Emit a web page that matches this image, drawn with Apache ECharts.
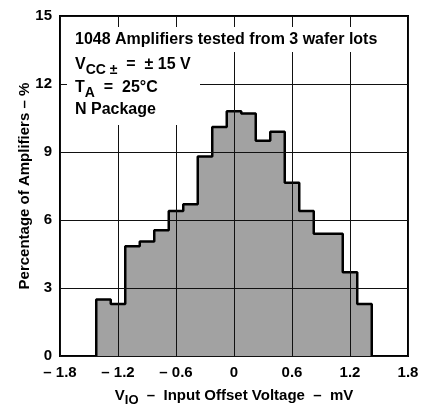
<!DOCTYPE html>
<html>
<head>
<meta charset="utf-8">
<script src="https://cdn.jsdelivr.net/npm/echarts@6/dist/echarts.min.js"></script>
<style>
html,body{margin:0;padding:0;background:#fff;}
#chart{width:429px;height:412px;}
</style>
</head>
<body>
<div id="chart"></div>
<script>
// Bin edges (mV) of the histogram
const binEdges = [-1.425, -1.275, -1.125, -0.975, -0.825, -0.675, -0.525, -0.375, -0.225, -0.075,
                  0.075, 0.225, 0.375, 0.525, 0.675, 0.825, 0.975, 1.125, 1.275, 1.425];
// Percentage of amplifiers per bin
const percentages = [2.5, 2.3, 4.85, 5.05, 5.55, 6.4, 6.7, 8.8, 10.1, 10.8,
                     10.7, 9.5, 9.9, 7.65, 6.4, 5.4, 5.4, 3.7, 2.3];
const xTicks = [-1.8, -1.2, -0.6, 0, 0.6, 1.2, 1.8];
const yTicks = [0, 3, 6, 9, 12, 15];

const FONT = '"Liberation Sans", Arial, Helvetica, sans-serif';

// Step outline points built from the bin edges and heights
const stepData = [[binEdges[0], 0]];
for (let i = 0; i < percentages.length; i++) {
  stepData.push([binEdges[i + 1], percentages[i]]);
}
stepData.push([binEdges[binEdges.length - 1], 0]);

function fmtX(v) {
  if (Math.abs(v) < 1e-9) return '0';
  const s = Math.abs(v).toFixed(1);
  return v < 0 ? '\u2013 ' + s : s;
}

const chart = echarts.init(document.getElementById('chart'), null, {renderer: 'canvas'});
chart.setOption({
  animation: false,
  backgroundColor: '#fff',
  grid: {
    left: 60, right: 21, top: 16, bottom: 49,
    show: true, borderColor: '#000', borderWidth: 2, backgroundColor: 'transparent'
  },
  xAxis: {
    type: 'value',
    min: xTicks[0], max: xTicks[xTicks.length - 1], interval: 0.6,
    z: 5,
    axisLine: {show: false},
    axisTick: {show: false},
    splitLine: {show: true, lineStyle: {color: '#111', width: 1}},
    axisLabel: {
      formatter: fmtX, color: '#000', fontFamily: FONT, fontWeight: 'bold', fontSize: 15, margin: 9
    },
    name: '{v|V}{sub|IO}{t|  \u2013  Input Offset Voltage  \u2013  mV}',
    nameLocation: 'middle',
    nameGap: 23,
    nameTextStyle: {
      rich: {
        v: {fontFamily: FONT, fontWeight: 'bold', fontSize: 15, color: '#000', lineHeight: 17},
        sub: {fontFamily: FONT, fontWeight: 'bold', fontSize: 13, color: '#000', lineHeight: 14, padding: [9, 0, 0, 0]},
        t: {fontFamily: FONT, fontWeight: 'bold', fontSize: 15, color: '#000', lineHeight: 17}
      }
    }
  },
  yAxis: {
    type: 'value',
    min: yTicks[0], max: yTicks[yTicks.length - 1], interval: 3,
    z: 5,
    axisLine: {show: false},
    axisTick: {show: false},
    splitLine: {show: true, lineStyle: {color: '#111', width: 1}},
    axisLabel: {color: '#000', fontFamily: FONT, fontWeight: 'bold', fontSize: 15, margin: 8},
    name: 'Percentage of Amplifiers \u2013 %',
    nameLocation: 'middle',
    nameRotate: 90,
    nameGap: 28,
    nameMoveOverlap: false,
    nameTextStyle: {color: '#000', fontFamily: FONT, fontWeight: 'bold', fontSize: 15}
  },
  series: [{
    type: 'line',
    step: 'start',
    data: stepData,
    symbol: 'none',
    z: 2,
    lineStyle: {color: '#000', width: 2.5},
    areaStyle: {color: '#a2a2a2', opacity: 1}
  }],
  graphic: [
    {type: 'rect', z: 20, shape: {x: 67, y: 27, width: 316, height: 25}, style: {fill: '#fff'}},
    {type: 'rect', z: 20, shape: {x: 67, y: 50, width: 133, height: 75}, style: {fill: '#fff'}},
    {type: 'text', z: 30, x: 75, y: 40, style: {
      text: '1048 Amplifiers tested from 3 wafer lots', fill: '#000',
      font: 'bold 16px ' + FONT, verticalAlign: 'middle', align: 'left'}},
    {type: 'text', z: 30, x: 75, y: 65, style: {
      text: '{m|V}{s|CC \u00b1}{m|  =  \u00b1 15 V}', verticalAlign: 'middle', align: 'left',
      rich: {
        m: {fontFamily: FONT, fontWeight: 'bold', fontSize: 16, fill: '#000', lineHeight: 18},
        s: {fontFamily: FONT, fontWeight: 'bold', fontSize: 14, fill: '#000', lineHeight: 15, padding: [10, 0, 0, 0]}
      }}},
    {type: 'text', z: 30, x: 75, y: 88, style: {
      text: '{m|T}{s|A}{m|  =  25\u00b0C}', verticalAlign: 'middle', align: 'left',
      rich: {
        m: {fontFamily: FONT, fontWeight: 'bold', fontSize: 16, fill: '#000', lineHeight: 18},
        s: {fontFamily: FONT, fontWeight: 'bold', fontSize: 14, fill: '#000', lineHeight: 15, padding: [10, 0, 0, 0]}
      }}},
    {type: 'text', z: 30, x: 75, y: 110, style: {
      text: 'N Package', fill: '#000',
      font: 'bold 16px ' + FONT, verticalAlign: 'middle', align: 'left'}}
  ]
});
</script>
</body>
</html>
